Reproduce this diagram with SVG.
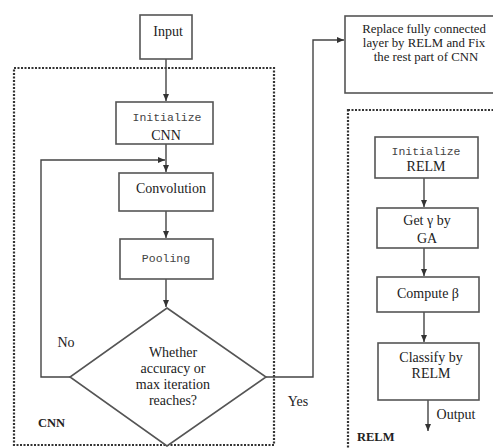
<svg xmlns="http://www.w3.org/2000/svg" width="493" height="448" viewBox="0 0 493 448">
<defs>
<marker id="ah" markerWidth="8" markerHeight="8" refX="7" refY="4" orient="auto" markerUnits="userSpaceOnUse">
<path d="M0,1 L7,4 L0,7 Z" fill="#333"/>
</marker>
<style>
.box{fill:#fff;stroke:#555;stroke-width:1.6}
.grp{fill:none;stroke:#333;stroke-width:2.2;stroke-dasharray:2 1.5}
.ln{fill:none;stroke:#444;stroke-width:1.4}
.t{font-family:"Liberation Serif",serif;font-size:14px;fill:#222;text-anchor:middle}
.r{font-family:"Liberation Serif",serif;font-size:12.8px;fill:#222;text-anchor:middle}
.m{font-family:"Liberation Mono",monospace;font-size:11.5px;fill:#444;text-anchor:middle}
.b{font-family:"Liberation Serif",serif;font-size:12.5px;font-weight:bold;fill:#222}
</style>
</defs>
<rect width="493" height="448" fill="#fff"/>
<g id="cnn-group"><rect class="grp" x="14" y="68" width="260" height="377"/><text class="b" x="38" y="427">CNN</text></g>
<g id="relm-group"><rect class="grp" x="348" y="110" width="160" height="350"/><text class="b" x="357" y="441">RELM</text></g>
<g id="connectors">
<line class="ln" x1="166" y1="59" x2="166" y2="101" marker-end="url(#ah)"/>
<line class="ln" x1="166" y1="144" x2="166" y2="172" marker-end="url(#ah)"/>
<polyline class="ln" points="70,377 41,377 41,160 165,160" marker-end="url(#ah)"/>
<line class="ln" x1="166" y1="211" x2="166" y2="238" marker-end="url(#ah)"/>
<line class="ln" x1="166" y1="279" x2="166" y2="307" marker-end="url(#ah)"/>
<polyline class="ln" points="266,377 313,377 313,40 344,40" marker-end="url(#ah)"/>
<line class="ln" x1="424" y1="178" x2="424" y2="207" marker-end="url(#ah)"/>
<line class="ln" x1="424" y1="248" x2="424" y2="276" marker-end="url(#ah)"/>
<line class="ln" x1="424" y1="312" x2="424" y2="342" marker-end="url(#ah)"/>
<line class="ln" x1="428" y1="400" x2="428" y2="431" stroke-width="2" marker-end="url(#ah)"/>
<text class="t" x="66" y="347">No</text>
<text class="t" x="298" y="406">Yes</text>
<text class="t" x="456" y="419">Output</text>
</g>
<g id="input"><rect class="box" x="140" y="15" width="52" height="44"/><text class="t" x="168" y="36">Input</text></g>
<g id="init-cnn"><rect class="box" x="116" y="102" width="97" height="42"/><text class="m" x="167" y="121">Initialize</text><text class="t" x="166" y="140">CNN</text></g>
<g id="convolution"><rect class="box" x="119" y="173" width="94" height="38"/><text class="t" x="171" y="193">Convolution</text></g>
<g id="pooling"><rect class="box" x="120" y="239" width="93" height="40"/><text class="m" x="166" y="262">Pooling</text></g>
<g id="decision"><polygon class="box" points="167,308 266,377 167,446 70,377"/>
<text class="t" x="173" y="357">Whether</text><text class="t" x="173" y="373">accuracy or</text><text class="t" x="173" y="389">max iteration</text><text class="t" x="173" y="405">reaches?</text></g>
<g id="replace"><rect class="box" x="345" y="16" width="165" height="77"/>
<text class="r" x="424" y="33">Replace fully connected</text><text class="r" x="424" y="47">layer by  RELM and Fix</text><text class="r" x="426" y="61">the rest part of CNN</text></g>
<g id="init-relm"><rect class="box" x="375" y="137" width="103" height="41"/><text class="m" x="426" y="155">Initialize</text><text class="t" x="426" y="171">RELM</text></g>
<g id="get-gamma"><rect class="box" x="377" y="208" width="101" height="40"/><text class="t" x="427" y="225">Get  γ  by</text><text class="t" x="427" y="243">GA</text></g>
<g id="compute-beta"><rect class="box" x="377" y="277" width="102" height="35"/><text class="t" x="428" y="298">Compute  β</text></g>
<g id="classify"><rect class="box" x="378" y="343" width="101" height="57"/><text class="t" x="431" y="362">Classify by</text><text class="t" x="431" y="378">RELM</text></g>
</svg>
